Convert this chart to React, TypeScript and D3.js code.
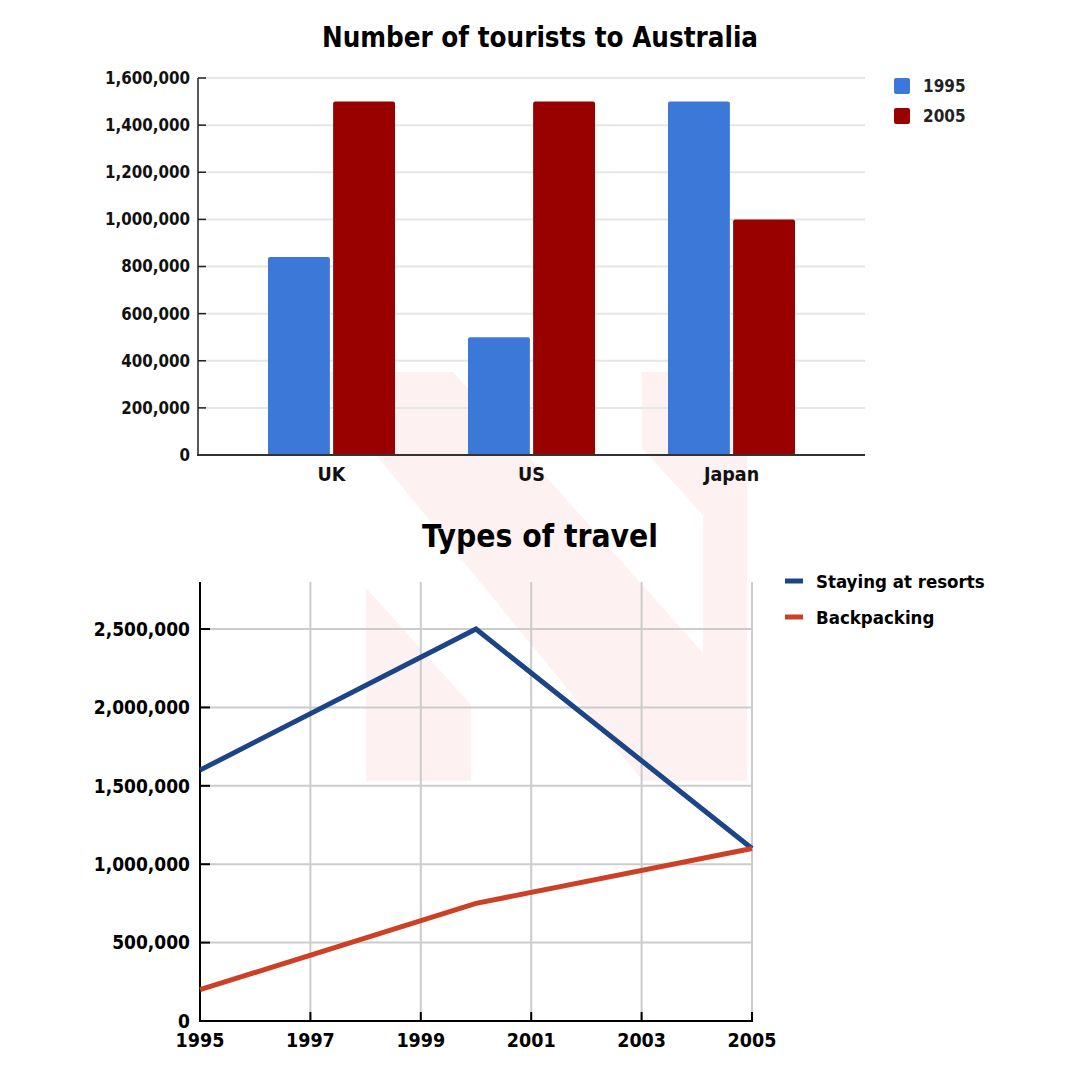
import React from 'react';
import * as d3 from 'd3';

const countries = ['UK', 'US', 'Japan'];
const barYears = ['1995', '2005'];
const tourists1995 = [840000, 500000, 1500000];
const tourists2005 = [1500000, 1500000, 1000000];
const barYTicks = [0, 200000, 400000, 600000, 800000, 1000000, 1200000, 1400000, 1600000];
const barColors = ['#3c78d8', '#990000'];

const travelYears = [1995, 2000, 2005];
const resorts = [1600000, 2500000, 1100000];
const backpacking = [200000, 750000, 1100000];
const lineNames = ['Staying at resorts', 'Backpacking'];
const lineColors = ['#1c4587', '#cc4125'];
const lineYTicks = [0, 500000, 1000000, 1500000, 2000000, 2500000];
const lineXTicks = [1995, 1997, 1999, 2001, 2003, 2005];

const FONT = "'DejaVu Sans Condensed', 'DejaVu Sans', Verdana, sans-serif";
const fmt = d3.format(',');

function roundTopRect(x: number, y: number, w: number, h: number, r: number) {
  const rr = Math.min(r, h, w / 2);
  return `M${x},${y + h}V${y + rr}Q${x},${y} ${x + rr},${y}H${x + w - rr}Q${x + w},${y} ${x + w},${y + rr}V${y + h}Z`;
}

export default function App() {
  // ---------- top bar chart ----------
  const bx0 = d3.scaleBand<string>().domain(countries).range([198, 865]).paddingInner(0.365).paddingOuter(0.35);
  const bx1 = d3.scaleBand<string>().domain(barYears).range([0, bx0.bandwidth()]).paddingInner(0.05);
  const by = d3.scaleLinear().domain([0, 1600000]).range([455, 78]);
  const barSeries = [tourists1995, tourists2005];

  // ---------- bottom line chart ----------
  const lx = d3.scaleLinear().domain([1995, 2005]).range([200, 752]);
  const ly = d3.scaleLinear().domain([0, 2800000]).range([1021, 582]);
  const lineGen = d3.line<number>().x((_, i) => lx(travelYears[i])).y((d) => ly(d));
  const lineSeries = [resorts, backpacking];

  const wm = '#fdf1f1';

  return (
    <svg width={1080} height={1080} style={{ position: 'absolute', left: 0, top: 0, background: '#fff' }} fontFamily={FONT}>
      <rect x={0} y={0} width={1080} height={1080} fill="#fff" />
      {/* watermark */}
      <g fill={wm}>
        <polygon points="366,588 471,705 471,781 366,781" />
        <polygon points="308,372 453,372 703,653 703,515 642,448 642,372 747,372 747,781 643,781" />
      </g>

      {/* ===== Top chart ===== */}
      <text x={540} y={47} textAnchor="middle" fontSize={27.5} fontWeight="bold" fill="#000">
        Number of tourists to Australia
      </text>
      {barYTicks.map((t) => (
        <g key={'bg' + t}>
          {t > 0 && <line x1={198} x2={865} y1={by(t)} y2={by(t)} stroke="#e6e6e6" strokeWidth={2} />}
          <line x1={198} x2={206} y1={by(t)} y2={by(t)} stroke="#222" strokeWidth={1.5} />
          <text x={190} y={by(t)} dy="0.35em" textAnchor="end" fontSize={16.8} fontWeight="bold" fill="#111">
            {fmt(t)}
          </text>
        </g>
      ))}
      {countries.map((c, ci) => (
        <g key={c} transform={`translate(${bx0(c)},0)`}>
          {barYears.map((yr, si) => {
            const v = barSeries[si][ci];
            const x = bx1(yr)!;
            const y = by(v);
            return (
              <path key={yr} d={roundTopRect(x, y, bx1.bandwidth(), by(0) - y, 2)} fill={barColors[si]} />
            );
          })}
          <text x={bx0.bandwidth() / 2} y={481} textAnchor="middle" fontSize={19.5} fontWeight="bold" fill="#111">
            {c}
          </text>
        </g>
      ))}
      <line x1={198} x2={198} y1={78} y2={456} stroke="#222" strokeWidth={1.5} />
      <line x1={197} x2={865} y1={455} y2={455} stroke="#333" strokeWidth={2} />
      {barYears.map((yr, i) => (
        <g key={'lg' + yr} transform={`translate(894,${78 + i * 30})`}>
          <rect x={0} y={0} width={16} height={16} rx={2} fill={barColors[i]} />
          <text x={29} y={8} dy="0.36em" fontSize={17} fontWeight="bold" fill="#222">
            {yr}
          </text>
        </g>
      ))}

      {/* ===== Bottom chart ===== */}
      <text x={540} y={547} textAnchor="middle" fontSize={31.5} fontWeight="bold" fill="#000">
        Types of travel
      </text>
      {lineXTicks.map((t) => (
        <g key={'vx' + t}>
          <line x1={lx(t)} x2={lx(t)} y1={582} y2={1021} stroke="#cccccc" strokeWidth={2} />
          <line x1={lx(t)} x2={lx(t)} y1={1012} y2={1021} stroke="#000" strokeWidth={2} />
          <text x={lx(t)} y={1047} textAnchor="middle" fontSize={19.5} fontWeight="bold" fill="#000">
            {t}
          </text>
        </g>
      ))}
      {lineYTicks.map((t) => (
        <g key={'hy' + t}>
          {t > 0 && <line x1={200} x2={752} y1={ly(t)} y2={ly(t)} stroke="#cccccc" strokeWidth={2} />}
          <line x1={200} x2={210} y1={ly(t)} y2={ly(t)} stroke="#000" strokeWidth={2} />
          <text x={190} y={ly(t)} dy="0.36em" textAnchor="end" fontSize={19} fontWeight="bold" fill="#000">
            {fmt(t)}
          </text>
        </g>
      ))}
      <line x1={200} x2={200} y1={582} y2={1022} stroke="#000" strokeWidth={2} />
      <line x1={199} x2={753} y1={1021} y2={1021} stroke="#000" strokeWidth={2} />
      {lineSeries.map((s, i) => (
        <path key={'ln' + i} d={lineGen(s)!} fill="none" stroke={lineColors[i]} strokeWidth={5} strokeLinejoin="miter" />
      ))}
      {lineNames.map((n, i) => (
        <g key={'ll' + n} transform={`translate(785,${581 + i * 36})`}>
          <line x1={0} x2={18} y1={0} y2={0} stroke={lineColors[i]} strokeWidth={5} />
          <text x={31} y={0} dy="0.36em" fontSize={18.5} fontWeight="bold" fill="#000">
            {n}
          </text>
        </g>
      ))}
    </svg>
  );
}
